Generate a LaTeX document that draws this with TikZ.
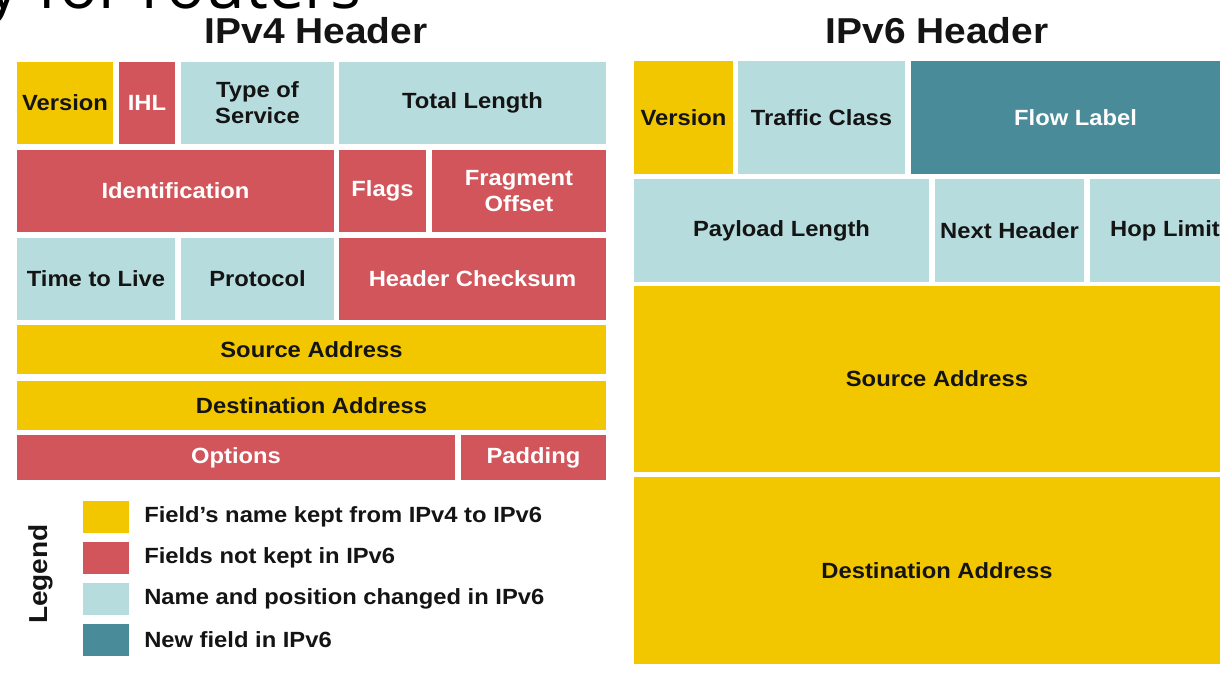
\documentclass[tikz,border=0pt]{standalone}
\usepackage{fontspec}
\setmainfont{Liberation Sans}[FakeStretch=1.08]
\newfontfamily\slidefont{Open Sans}

\definecolor{keptyellow}{RGB}{242,199,0}
\definecolor{droppedred}{RGB}{210,85,91}
\definecolor{movedblue}{RGB}{182,220,222}
\definecolor{newteal}{RGB}{74,139,153}
\definecolor{inkblack}{RGB}{20,20,20}

\tikzset{
  field/.style={rectangle, inner sep=0pt, outer sep=0pt, align=center,
    font=\fontsize{16.5}{19.5}\selectfont\bfseries},
  kept/.style={field, fill=keptyellow, text=inkblack},
  dropped/.style={field, fill=droppedred, text=white},
  moved/.style={field, fill=movedblue, text=inkblack},
  newfld/.style={field, fill=newteal, text=white},
  hdrtitle/.style={font=\fontsize{27}{30}\selectfont\bfseries, text=inkblack,
    inner sep=0pt, anchor=base},
  swatch/.style={rectangle, inner sep=0pt, minimum width=34.5pt, minimum height=24pt},
  legtext/.style={font=\fontsize{16.5}{19.5}\selectfont\bfseries, text=inkblack,
    anchor=west, inner sep=0pt},
}

% \hdrfield{name}{left}{top}{right}{bottom}{style}{label}, in pixel units
\newcommand\hdrfield[7]{%
  \node[#6, minimum width={(#4-(#2))*0.75pt}, minimum height={(#5-(#3))*0.75pt}]
    (#1) at ({(#2+#4)/2},{(#3+#5)/2}) {#7};}

\begin{document}
\begin{tikzpicture}[x=0.75pt, y=-0.75pt]
\useasboundingbox (0,0) rectangle (1220,672);
\begin{scope}
\clip (0,0) rectangle (1220,672);

% slide heading, cut off by the top edge
\node[font=\slidefont\fontsize{48.5}{54}\selectfont, text=black, anchor=base east,
  inner sep=0pt] (slidehead) at (362,8.5) {y for routers};

% ---------------- IPv4 header ----------------
\node[hdrtitle] (v4title) at (316,43) {IPv4 Header};

\hdrfield{v4ver}{17}{62}{113}{144}{kept}{Version}
\hdrfield{v4ihl}{119}{62}{175}{144}{dropped}{IHL}
\hdrfield{v4tos}{181}{62}{334}{144}{moved}{Type of\\Service}
\hdrfield{v4len}{339}{62}{606}{144}{moved}{Total Length}

\hdrfield{v4id}{17}{150}{334}{232}{dropped}{Identification}
\hdrfield{v4flags}{339}{150}{426}{232}{dropped}{Flags}
\hdrfield{v4frag}{432}{150}{606}{232}{dropped}{Fragment\\Offset}

\hdrfield{v4ttl}{17}{238}{175}{320}{moved}{Time to Live}
\hdrfield{v4proto}{181}{238}{334}{320}{moved}{Protocol}
\hdrfield{v4sum}{339}{238}{606}{320}{dropped}{Header Checksum}

\hdrfield{v4src}{17}{325}{606}{374}{kept}{Source Address}
\hdrfield{v4dst}{17}{381}{606}{430}{kept}{Destination Address}

\hdrfield{v4opt}{17}{435}{455}{480}{dropped}{Options}
\hdrfield{v4pad}{461}{435}{606}{480}{dropped}{Padding}

% ---------------- IPv6 header ----------------
\node[hdrtitle] (v6title) at (937,43) {IPv6 Header};

\hdrfield{v6ver}{634}{61}{733}{174}{kept}{Version}
\hdrfield{v6tc}{738}{61}{905}{174}{moved}{Traffic Class}
\hdrfield{v6flow}{911}{61}{1240}{174}{newfld}{Flow Label}

\hdrfield{v6plen}{634}{179}{929}{282}{moved}{Payload Length}
\hdrfield{v6next}{935}{179}{1084}{282}{moved}{Next Header}
\hdrfield{v6hop}{1090}{179}{1240}{282}{moved}{Hop Limit}

\hdrfield{v6src}{634}{286}{1240}{472}{kept}{Source Address}
\hdrfield{v6dst}{634}{477}{1240}{664}{kept}{Destination Address}

% ---------------- legend ----------------
\node[font=\fontsize{19.5}{22}\selectfont\bfseries, text=inkblack, rotate=90,
  inner sep=0pt] (legendhead) at (41,574) {Legend};

\node[swatch, fill=keptyellow] (swkept) at (105.5,517) {};
\node[swatch, fill=droppedred] (swdrop) at (105.5,558) {};
\node[swatch, fill=movedblue] (swmoved) at (105.5,599) {};
\node[swatch, fill=newteal] (swnew) at (105.5,639.5) {};

\node[legtext] (ltkept) at (144,517) {Field's name kept from IPv4 to IPv6};
\node[legtext] (ltdrop) at (144,558) {Fields not kept in IPv6};
\node[legtext] (ltmoved) at (144,599) {Name and position changed in IPv6};
\node[legtext] (ltnew) at (144,639.5) {New field in IPv6};
\end{scope}
\end{tikzpicture}
\end{document}
